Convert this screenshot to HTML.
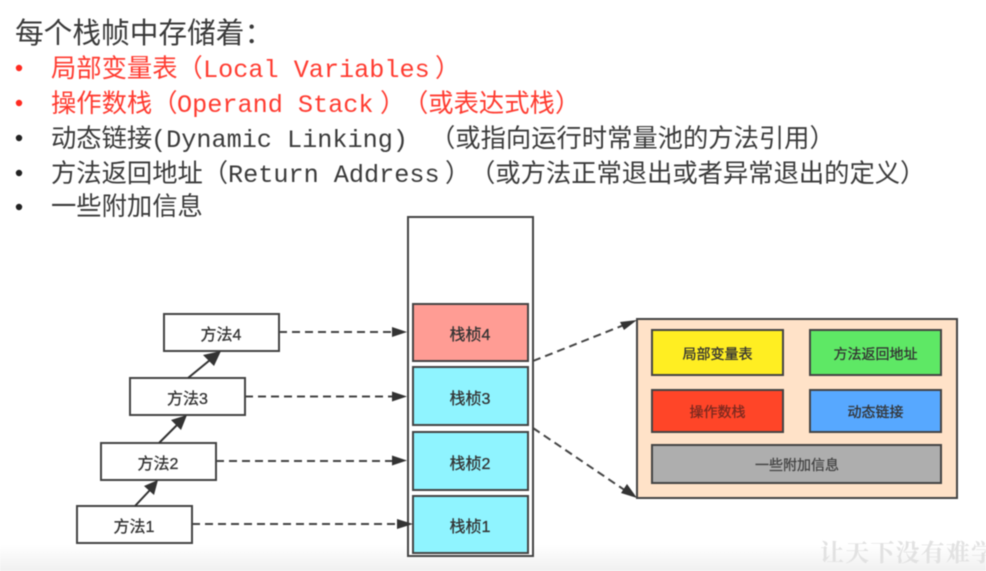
<!DOCTYPE html>
<html><head><meta charset="utf-8"><style>
html,body{margin:0;padding:0;width:986px;height:571px;overflow:hidden;background:#fff}
svg{display:block;filter:blur(.45px)}
text{font-family:"Liberation Sans","Noto Sans CJK SC",sans-serif}
.l{font-size:25.3px;fill:#3a3a3a}
.r{fill:#ff3b30}
.m{font-family:"Liberation Mono","Noto Sans CJK SC",monospace;font-size:25.2px}
.c{text-anchor:middle;fill:#333;stroke:#333;stroke-width:.3px}
.n{font-size:16px}
.p{font-size:14px}
</style></head><body>
<svg width="986" height="571" viewBox="0 0 986 571" xmlns="http://www.w3.org/2000/svg">
<defs><linearGradient id="g" x1="0" y1="0" x2="0" y2="1"><stop offset="0" stop-color="#fff"/><stop offset="1" stop-color="#f0f0f0"/></linearGradient></defs>
<rect x="0" y="545" width="986" height="26" fill="url(#g)"/>
<text x="15" y="43" font-size="28.7px" fill="#3a3a3a">每个栈帧中存储着&#xFF1A;</text>
<circle cx="19" cy="68" r="3.2" fill="#ff2a20"/><circle cx="19" cy="103" r="3.2" fill="#ff2a20"/>
<circle cx="19" cy="138" r="3.2" fill="#222"/><circle cx="19" cy="173" r="3.2" fill="#222"/><circle cx="19" cy="207" r="3.2" fill="#222"/>
<text x="51" y="77" class="l r">局部变量表&#xFF08;<tspan class="m" x="203">Local Variables</tspan><tspan x="435">&#xFF09;</tspan></text>
<text x="51" y="112" class="l r">操作数栈&#xFF08;<tspan class="m" x="177">Operand Stack</tspan><tspan x="380">&#xFF09;</tspan><tspan x="403">&#xFF08;或表达式栈</tspan><tspan x="555">&#xFF09;</tspan></text>
<text x="51" y="147" class="l">动态链接<tspan class="m" x="151">(Dynamic Linking)</tspan><tspan x="430">&#xFF08;或指向运行时常量池的方法引用&#xFF09;</tspan></text>
<text x="51" y="182" class="l">方法返回地址&#xFF08;<tspan class="m" x="228">Return Address</tspan><tspan x="445">&#xFF09;</tspan><tspan x="470">&#xFF08;或方法正常退出或者异常退出的定义</tspan><tspan x="900">&#xFF09;</tspan></text>
<text x="51" y="215" class="l">一些附加信息</text>
<g stroke="#444" stroke-width="2" fill="#fff">
<rect x="408" y="217" width="125" height="339"/>
<rect x="413" y="304" width="115" height="57" fill="#ff9c94"/>
<rect x="413" y="367" width="115" height="58" fill="#8ff4ff"/>
<rect x="413" y="432" width="115" height="58" fill="#8ff4ff"/>
<rect x="413" y="496" width="115" height="57" fill="#8ff4ff"/>
<rect x="164" y="314" width="115" height="37"/>
<rect x="130" y="378" width="115" height="37"/>
<rect x="101" y="443" width="115" height="37"/>
<rect x="77" y="506" width="115" height="37"/>
<rect x="637" y="319" width="320" height="179" fill="#ffe2c8"/>
<rect x="652" y="330" width="131" height="45" fill="#ffee22"/>
<rect x="810" y="330" width="131" height="45" fill="#5ee865"/>
<rect x="652" y="390" width="131" height="42" fill="#ff4528"/>
<rect x="810" y="390" width="131" height="42" fill="#57a8ff"/>
<rect x="652" y="445" width="289" height="38" fill="#aeaeae"/>
</g>
<g stroke="#444" stroke-width="2" fill="none" stroke-dasharray="8 5">
<path d="M279 332H394M245 396.5H394M216 461H394M192 524H400M533 361L624 325M533 428L626 491"/>
</g>
<g stroke="#333" stroke-width="2" fill="none">
<path d="M135 506L150 490M159 443L177 425M188 378L210 360"/>
</g>
<g fill="#333">
<path d="M407 332L392 327V337ZM407 396.5L392 391.5V401.5ZM407 460.5L392 455.500V465.500ZM413 524L397 519V529Z"/>
<path d="M158 480L154 495L144 486ZM187 415L181 430L171 420ZM221 351L214 366L203 355Z"/>
<path d="M637 320L624 330L620 322ZM637 498L621 493L627 484Z"/>
</g>
<text x="221" y="340" class="c n">方法4</text>
<text x="187.500" y="404" class="c n">方法3</text>
<text x="158" y="469" class="c n">方法2</text>
<text x="134" y="532" class="c n">方法1</text>
<text x="470" y="340" class="c n">栈桢4</text>
<text x="470" y="404" class="c n">栈桢3</text>
<text x="470" y="469" class="c n">栈桢2</text>
<text x="470" y="532" class="c n">栈桢1</text>
<text x="717.500" y="359" class="c p">局部变量表</text>
<text x="875.500" y="359" class="c p">方法返回地址</text>
<text x="717.500" y="417" class="c p" style="fill:#7a2a20;stroke:#7a2a20">操作数栈</text>
<text x="875.500" y="417" class="c p">动态链接</text>
<text x="797" y="470" class="c p" style="fill:#444;stroke:#444">一些附加信息</text>
<text x="820" y="561" font-size="24" fill="#e2e2e2" font-weight="700" style="font-family:'Liberation Serif','Noto Serif CJK SC',serif" textLength="175">让天下没有难学</text>
</svg>
</body></html>
